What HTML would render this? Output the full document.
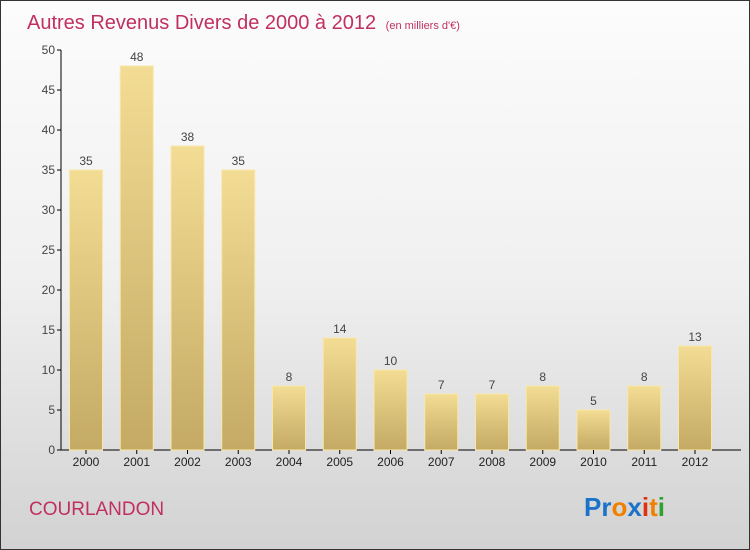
<!DOCTYPE html>
<html><head><meta charset="utf-8"><style>
body{margin:0}
#c{width:748px;height:548px;border:1px solid #333;background:linear-gradient(#fcfcfc,#f0f0f0 50%,#d2d2d2);position:relative;font-family:"Liberation Sans",sans-serif;overflow:hidden}
</style></head><body>
<div id="c">
<svg width="748" height="548">
<defs><linearGradient id="g" x1="0" y1="0" x2="0" y2="1"><stop offset="0" stop-color="#f3dc94"/><stop offset="1" stop-color="#c4aa64"/></linearGradient></defs>
<text x="26" y="28" font-size="20" fill="#c0305f">Autres Revenus Divers de 2000 à 2012 <tspan font-size="11" dx="4">(en milliers d'€)</tspan></text>
<g id="plot"></g>
<text x="28" y="514" font-size="19" fill="#c0305f">COURLANDON</text>
<text x="583" y="515" font-size="26" font-weight="bold"><tspan fill="#1a73c8">Pr</tspan><tspan fill="#f08000">o</tspan><tspan fill="#1a73c8">x</tspan><tspan fill="#e03010">i</tspan><tspan fill="#f08000">t</tspan><tspan fill="#30a030">i</tspan></text>
</svg></div>
<script>
const years=["2000","2001","2002","2003","2004","2005","2006","2007","2008","2009","2010","2011","2012"];
const values=[35,48,38,35,8,14,10,7,7,8,5,8,13];
const yTicks=[0,5,10,15,20,25,30,35,40,45,50];
const NS="http://www.w3.org/2000/svg";
const g=document.getElementById('plot');
const y=v=>449-v*8;
const x=i=>85+i*50.75;
function mk(t,a,txt){const e=document.createElementNS(NS,t);for(const k in a)e.setAttribute(k,a[k]);if(txt!=null)e.textContent=txt;g.appendChild(e);return e;}
let ax=mk('line',{x1:60,y1:y(50),x2:60,y2:y(0),stroke:'#000'});


let xa=mk('line',{x1:60,y1:y(0),x2:740,y2:y(0),stroke:'#000'});


yTicks.forEach(t=>{
 let l=mk('line',{x1:56,y1:y(t),x2:60,y2:y(t),stroke:'#000'});
 
 
 let tx=mk('text',{x:54,y:y(t)+4,'font-size':12,fill:'#444','text-anchor':'end'},t);
 
 
});
values.forEach((v,i)=>{
 let r=mk('rect',{x:x(i)-16.5,y:y(v),width:33,height:v*8,fill:'url(#g)',stroke:'#f8e8a8','stroke-width':1});
 
 
 let t=mk('text',{x:x(i),y:y(v)-5,'font-size':12,fill:'#444','text-anchor':'middle'},v);
 
 
 let tk=mk('line',{x1:x(i),y1:y(0),x2:x(i),y2:y(0)+4,stroke:'#000'});
 
 
 let yl=mk('text',{x:x(i),y:465,'font-size':12,fill:'#222','text-anchor':'middle'},years[i]);
 
 
});
</script>
</body></html>
